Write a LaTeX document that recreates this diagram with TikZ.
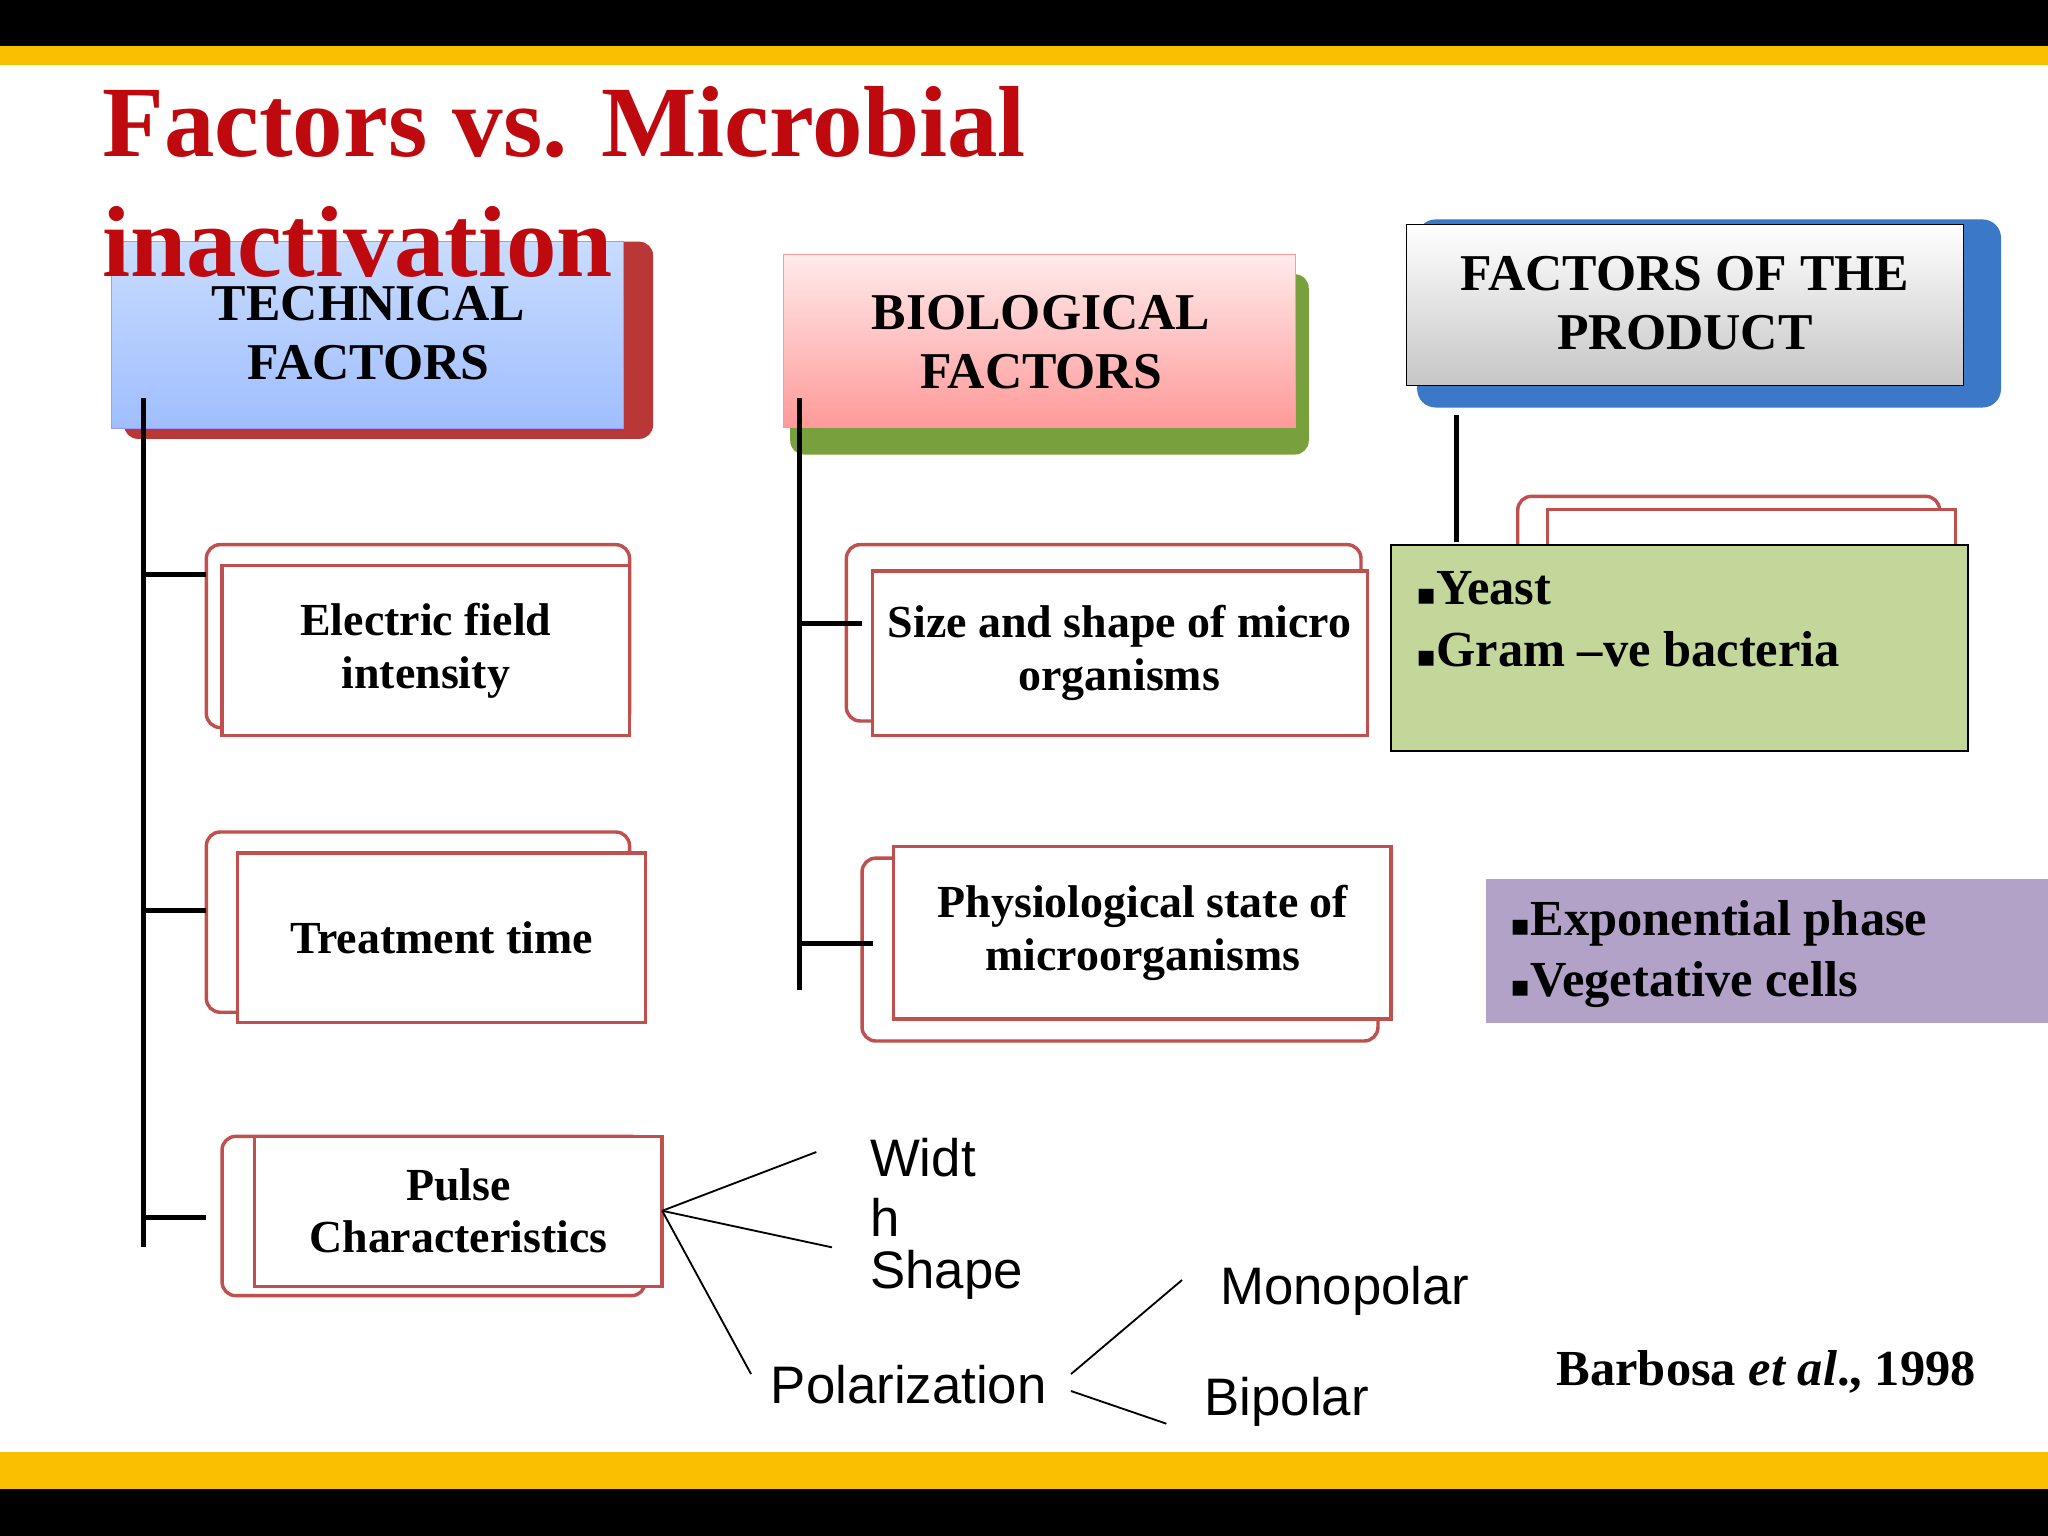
\documentclass[tikz,border=0pt]{standalone}
\usepackage{fontspec}
\setmainfont{Liberation Serif}
\newfontfamily\hand{Liberation Sans}
\newfontfamily\dv{DejaVu Sans}
\usetikzlibrary{positioning}
\definecolor{barY}{RGB}{250,192,0}
\definecolor{tred}{RGB}{190,10,15}
\definecolor{bred}{RGB}{192,80,77}
\definecolor{gfill}{RGB}{195,215,155}
\definecolor{pfill}{RGB}{178,162,199}
\definecolor{shRed}{RGB}{185,55,55}
\definecolor{shGreen}{RGB}{120,160,60}
\definecolor{shBlue}{RGB}{60,120,200}
\definecolor{tBlueTop}{RGB}{200,220,255}
\definecolor{tBlueBot}{RGB}{160,190,255}
\tikzset{
 hdr/.style={font=\bfseries\fontsize{22.5}{26}\selectfont,align=center},
 lbl/.style={font=\bfseries\fontsize{20}{23}\selectfont,align=center},
 bk/.style={draw=bred,line width=1.5pt,fill=white,rounded corners=6pt},
 fr/.style={draw=bred,line width=1.5pt,fill=white},
 tree/.style={line width=2.2pt},
 thin/.style={line width=0.8pt},
 hw/.style={font=\hand\fontsize{23}{27}\selectfont,anchor=west},
 bl/.style={font=\bfseries\fontsize{22}{26}\selectfont,anchor=west},
}
\newcommand{\sq}{{\dv\fontsize{13}{13}\selectfont ▪}}
\begin{document}
\begin{tikzpicture}[x=0.02cm,y=-0.02cm]
\useasboundingbox (0,0) rectangle (1568,1176);
\fill[white] (0,0) rectangle (1568,1176);
\fill[black] (0,0) rectangle (1568,35);
\fill[barY] (0,35) rectangle (1568,50);
\fill[barY] (0,1112) rectangle (1568,1140);
\fill[black] (0,1140) rectangle (1568,1176);
% header boxes
\fill[shRed,rounded corners=6pt] (95,185) rectangle (500,336);
\shade[top color=tBlueTop,bottom color=tBlueBot,draw=blue!40] (85,185) rectangle (477,328);
\node[hdr] (tech) at (282,255) {TECHNICAL\\FACTORS};
\fill[shGreen,rounded corners=6pt] (605,210) rectangle (1002,348);
\shade[top color=red!8,bottom color=red!40,draw=red!40] (600,195) rectangle (992,327);
\node[hdr] (bio) at (797,262) {BIOLOGICAL\\FACTORS};
\fill[shBlue,rounded corners=8pt] (1085,168) rectangle (1532,312);
\shade[top color=white,bottom color=gray!45,draw=black] (1077,172) rectangle (1503,295);
\node[hdr] (prod) at (1290,232) {FACTORS OF THE\\PRODUCT};
% title
\node[anchor=base west,text=tred,font=\bfseries\fontsize{44}{48}\selectfont,inner sep=0] (title) at (78,120) {Factors vs. Microbial};
\node[anchor=base west,text=tred,font=\bfseries\fontsize{44}{48}\selectfont,inner sep=0] (title2) at (78,212) {inactivation};
% double boxes
\draw[bk] (158,417) rectangle (482,557); \draw[fr] (170,433) rectangle (482,563);
\node[lbl] (ef) at (326,498) {Electric field\\intensity};
\draw[bk] (158,637) rectangle (482,775); \draw[fr] (182,653) rectangle (494,783);
\node[lbl] (tt) at (338,718) {Treatment time};
\draw[bk] (170,870) rectangle (494,992); \draw[fr] (195,870) rectangle (507,985);
\node[lbl] (pc) at (351,927) {Pulse\\Characteristics};
\draw[bk] (648,417) rectangle (1042,552); \draw[fr] (668,437) rectangle (1047,563);
\node[lbl] (ss) at (857,500) {Size and shape of micro\\organisms};
\draw[bk] (660,657) rectangle (1055,797); \draw[fr] (684,648) rectangle (1065,780);
\node[lbl] (ph) at (875,714) {Physiological state of\\microorganisms};
\draw[bk] (1162,380) rectangle (1485,430); \draw[fr] (1185,390) rectangle (1497,430);
\draw[fill=gfill,line width=0.8pt] (1065,417) rectangle (1507,575);
\node[bl] (y1) at (1078,450) {\sq Yeast};
\node[bl] (y2) at (1078,497) {\sq Gram –ve bacteria};
\fill[pfill] (1138,673) rectangle (1568,783);
\node[bl] (e1) at (1150,707) {\sq Exponential phase};
\node[bl] (e2) at (1150,754) {\sq Vegetative cells};
% tree lines
\coordinate (t0) at (110,305); \coordinate (t1) at (110,955);
\draw[tree] (t0) -- (t1);
\draw[tree] (110,440) -- (158,440);
\draw[tree] (110,697) -- (158,697);
\draw[tree] (110,932) -- (158,932);
\draw[tree] (612,305) -- (612,758);
\draw[tree] (612,477) -- (660,477);
\draw[tree] (612,722) -- (668,722);
\draw[tree] (1115,318) -- (1115,415);
% pulse branches
\coordinate (pe) at (507,927);
\node[hw] (w1) at (660,886) {Widt};
\node[hw] (w2) at (660,932) {h};
\node[hw] (sh) at (660,976) {Shape};
\node[hw] (po) at (584,1060) {Polarization};
\node[hw] (mo) at (928,988) {Monopolar};
\node[hw] (bp) at (916,1073) {Bipolar};
\coordinate (a1) at (625,882); \coordinate (a2) at (637,955); \coordinate (a3) at (575,1052);
\draw[thin] (pe) -- (a1); \draw[thin] (pe) -- (a2); \draw[thin] (pe) -- (a3);
\coordinate (b0) at (820,1052); \coordinate (b1) at (905,980);
\coordinate (c0) at (820,1065); \coordinate (c1) at (893,1090);
\draw[thin] (b0) -- (b1); \draw[thin] (c0) -- (c1);
\node[anchor=east,font=\bfseries\fontsize{22}{26}\selectfont] (ref) at (1519,1050) {Barbosa \textit{et al}., 1998};
\end{tikzpicture}
\end{document}
